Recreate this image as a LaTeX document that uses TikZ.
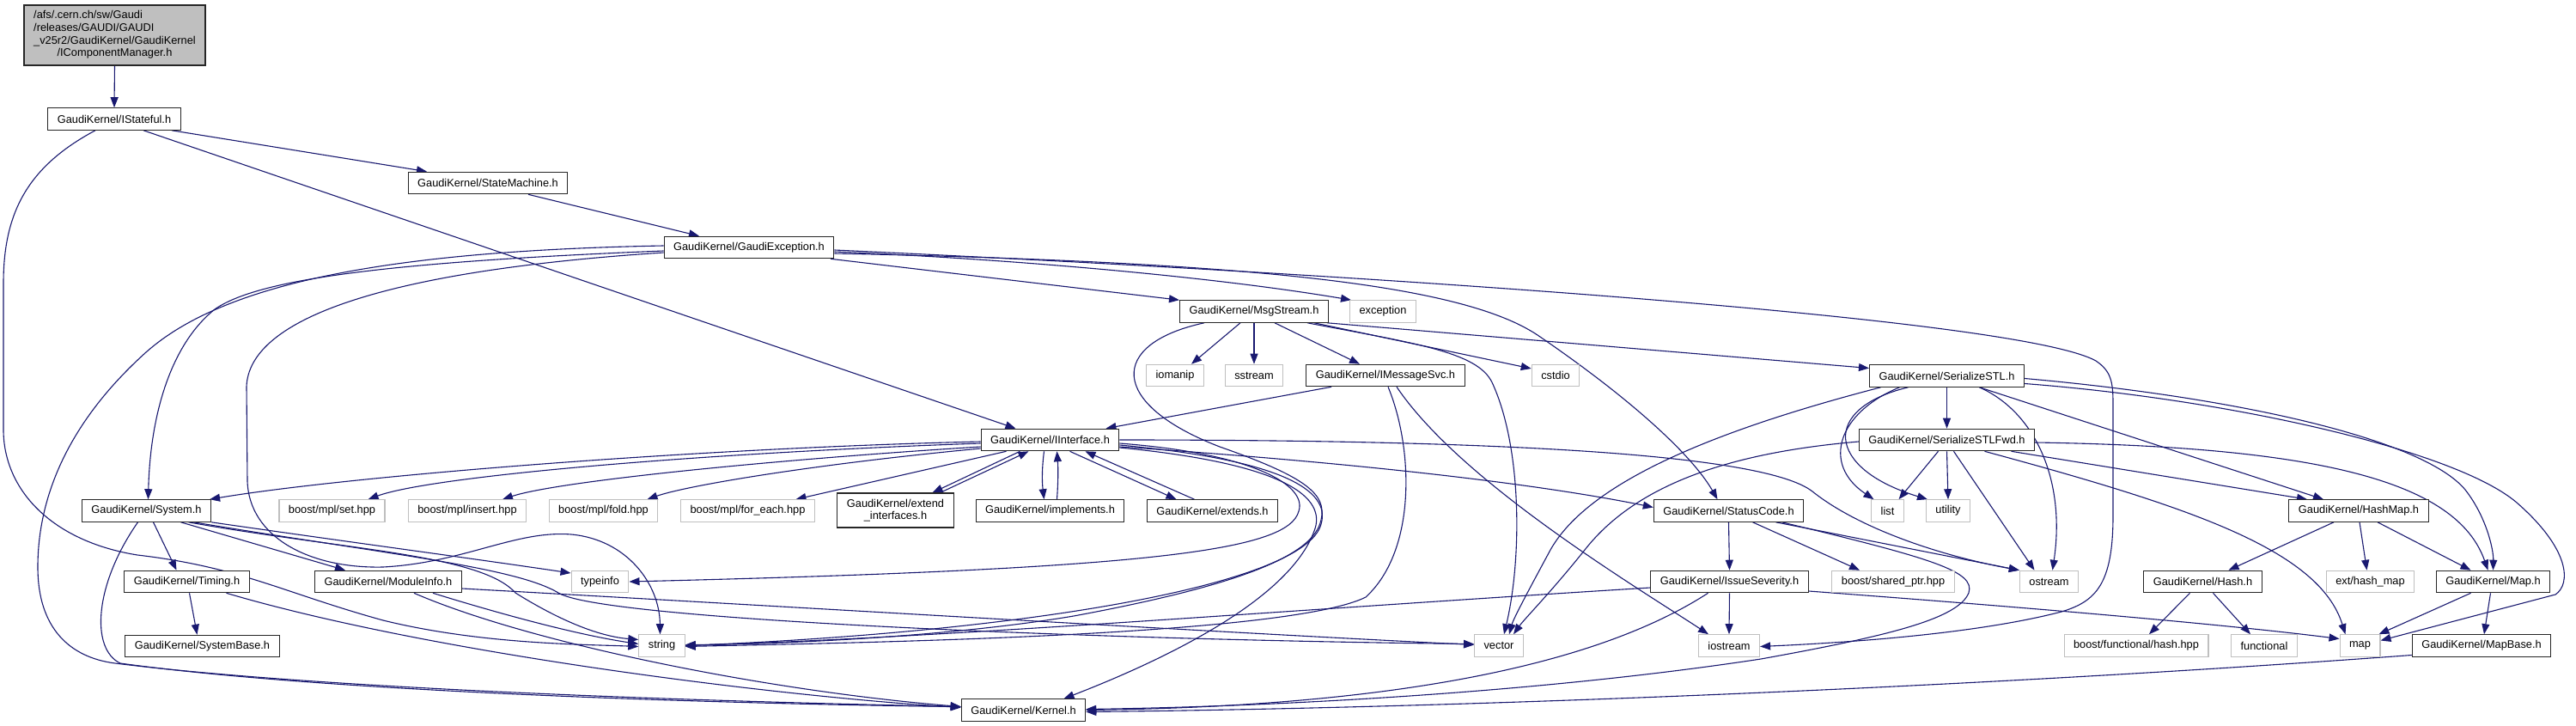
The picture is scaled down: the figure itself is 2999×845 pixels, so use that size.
\documentclass[tikz,border=0pt]{standalone}
\usepackage{fontspec}
\setmainfont{Liberation Sans}
\usetikzlibrary{arrows.meta}
\pgfdeclarelayer{bg}
\pgfsetlayers{bg,main}
\definecolor{edgec}{HTML}{191970}
\definecolor{sysgray}{HTML}{BFBFBF}
\begin{document}
\begin{tikzpicture}[x=1pt,y=-1pt,
  box/.style={rectangle, inner xsep=11pt, inner ysep=2pt, minimum height=25.5pt, fill=white,
              font=\fontsize{12.8}{14.7}\selectfont, line width=1.1pt},
  gk/.style={box, draw=black!85},
  sys/.style={box, draw=sysgray},
  edge/.style={draw=edgec, line width=1.1pt, -{Triangle[length=12pt,width=9pt]}}]
\useasboundingbox (0,0) rectangle (2999,845);
% ---------- nodes ----------
\node[gk, fill=sysgray, minimum width=211pt, minimum height=70pt, inner xsep=0pt] (root) at (133.5,41)
  {\begin{tabular}{@{}l@{}}/afs/.cern.ch/sw/Gaudi\\/releases/GAUDI/GAUDI\\\_v25r2/GaudiKernel/GaudiKernel\\\multicolumn{1}{@{}c@{}}{/IComponentManager.h}\end{tabular}};
\node[gk] (IStateful) at (133,138.5) {GaudiKernel/IStateful.h};
\node[gk] (StateMachine) at (568,213) {GaudiKernel/StateMachine.h};
\node[gk] (GaudiException) at (872,288) {GaudiKernel/GaudiException.h};
\node[gk] (MsgStream) at (1460,362.5) {GaudiKernel/MsgStream.h};
\node[sys] (exception) at (1610,362.5) {exception};
\node[sys] (iomanip) at (1368,437) {iomanip};
\node[sys] (sstream) at (1460,437) {sstream};
\node[gk] (IMessageSvc) at (1613,437) {GaudiKernel/IMessageSvc.h};
\node[sys] (cstdio) at (1811,437) {cstdio};
\node[gk] (SerializeSTL) at (2266.5,437.5) {GaudiKernel/SerializeSTL.h};
\node[gk] (IInterface) at (1222.5,512) {GaudiKernel/IInterface.h};
\node[gk] (SerializeSTLFwd) at (2266.5,512) {GaudiKernel/SerializeSTLFwd.h};
\node[gk] (System) at (170.5,594.5) {GaudiKernel/System.h};
\node[sys] (mplset) at (386.5,594.5) {boost/mpl/set.hpp};
\node[sys] (mplinsert) at (544,594.5) {boost/mpl/insert.hpp};
\node[sys] (mplfold) at (702.5,594.5) {boost/mpl/fold.hpp};
\node[sys] (mplforeach) at (870.5,594.5) {boost/mpl/for\_each.hpp};
\node[gk, align=center, minimum height=40pt] (extif) at (1042.5,594) {GaudiKernel/extend\\\_interfaces.h};
\node[gk] (implements) at (1222.5,594.5) {GaudiKernel/implements.h};
\node[gk] (extends) at (1411.5,594.5) {GaudiKernel/extends.h};
\node[gk] (StatusCode) at (2012.5,594.5) {GaudiKernel/StatusCode.h};
\node[sys] (list) at (2197.5,594.5) {list};
\node[sys] (utility) at (2268,594.5) {utility};
\node[gk] (HashMap) at (2746,594.5) {GaudiKernel/HashMap.h};
\node[gk] (Timing) at (217.5,677) {GaudiKernel/Timing.h};
\node[gk] (ModuleInfo) at (452,677) {GaudiKernel/ModuleInfo.h};
\node[sys] (typeinfo) at (698.5,677) {typeinfo};
\node[gk] (IssueSeverity) at (2013.5,677) {GaudiKernel/IssueSeverity.h};
\node[sys] (sharedptr) at (2204,677) {boost/shared\_ptr.hpp};
\node[sys] (ostream) at (2385.5,677) {ostream};
\node[gk] (Hash) at (2564.5,677) {GaudiKernel/Hash.h};
\node[sys] (exthashmap) at (2759.5,677) {ext/hash\_map};
\node[gk] (Map) at (2902.5,677) {GaudiKernel/Map.h};
\node[gk] (SystemBase) at (235.5,752) {GaudiKernel/SystemBase.h};
\node[sys] (string) at (770.5,751.5) {string};
\node[sys] (vector) at (1745,751.5) {vector};
\node[sys] (iostream) at (2013,751.5) {iostream};
\node[sys] (boosthash) at (2487,751.5) {boost/functional/hash.hpp};
\node[sys] (functional) at (2636,751.5) {functional};
\node[sys] (map) at (2747.5,751.5) {map};
\node[gk] (MapBase) at (2889,751.5) {GaudiKernel/MapBase.h};
\node[gk] (Kernel) at (1191.5,826.5) {GaudiKernel/Kernel.h};
% ---------- edges ----------
\begin{pgfonlayer}{bg}
\fill[white] (0,0) rectangle (2999,845);
\draw[edge] (root.south) -- (IStateful.north);
\draw[edge] ([xshift=67]IStateful.south) -- ([xshift=-71]StateMachine.north);
\draw[edge] ([xshift=34]IStateful.south) -- ([xshift=-40]IInterface.north);
\draw[edge] ([xshift=-22]IStateful.south) .. controls (30,195) and (4,250) .. (4,330) -- (4,500)
  .. controls (4,570) and (60,630) .. (160,646) .. controls (280,660) and (330,690) .. (446,722)
  .. controls (560,750) and (680,750) .. ([yshift=-1]string.west);
\draw[edge] ([xshift=47]StateMachine.south) -- ([xshift=-58]GaudiException.north);
% GaudiException
\draw[edge] ([xshift=95]GaudiException.south) -- ([xshift=-87]MsgStream.north);
\draw[edge] ([yshift=-5]GaudiException.east) .. controls (1150,300) and (1400,320) .. ([xshift=-37]exception.north);
\draw[edge] ([yshift=-7]GaudiException.east) .. controls (1450,305) and (1700,330) .. (1790,390)
  .. controls (1900,465) and (1970,530) .. ([xshift=-13]StatusCode.north);
\draw[edge] ([yshift=-3]GaudiException.east) .. controls (1600,320) and (2350,370) .. (2440,420)
  .. controls (2458,432) and (2460,445) .. (2460,470) -- (2460,600)
  .. controls (2460,680) and (2440,700) .. (2400,712) .. controls (2300,738) and (2150,748) .. ([yshift=-1]iostream.east);
\draw[edge] ([yshift=-4]GaudiException.west) .. controls (450,305) and (300,325) .. (250,360)
  .. controls (200,400) and (175,480) .. ([xshift=2]System.north);
\draw[edge] ([yshift=2]GaudiException.west) .. controls (450,292) and (260,330) .. (170,410)
  .. controls (70,500) and (44,590) .. (44,660) .. controls (44,730) and (80,765) .. (134,772)
  .. controls (400,805) and (900,818) .. ([yshift=4]Kernel.west);
\draw[edge] ([yshift=-6]GaudiException.west) .. controls (450,315) and (290,370) .. (287,450) -- (288,560)
  .. controls (290,625) and (360,662) .. (446,660) .. controls (540,655) and (600,617) .. (665,622)
  .. controls (730,628) and (768,680) .. ([xshift=-2]string.north);
% MsgStream
\draw[edge] ([xshift=-16]MsgStream.south) -- ([xshift=19]iomanip.north);
\draw[edge] (MsgStream.south) -- (sstream.north);
\draw[edge] ([xshift=24]MsgStream.south) -- ([xshift=-30]IMessageSvc.north);
\draw[edge] ([xshift=70]MsgStream.south) -- ([yshift=8]cstdio.west);
\draw[edge] ([xshift=-2]MsgStream.south east) -- ([yshift=9]SerializeSTL.west);
\draw[edge] ([xshift=62]MsgStream.south) .. controls (1650,400) and (1720,410) .. (1737,445)
  .. controls (1772,520) and (1772,650) .. ([xshift=6]vector.north);
\draw[edge] ([xshift=-58]MsgStream.south) .. controls (1290,400) and (1290,470) .. (1420,520)
  .. controls (1520,555) and (1545,575) .. (1538,605) .. controls (1530,645) and (1450,680) .. (1250,717)
  .. controls (1100,742) and (900,750) .. ([yshift=1]string.east);
% IMessageSvc
\draw[edge] ([xshift=-63]IMessageSvc.south) -- ([xshift=65]IInterface.north);
\draw[edge] ([xshift=3]IMessageSvc.south) .. controls (1645,520) and (1650,640) .. (1590,695)
  .. controls (1500,740) and (1000,748) .. ([yshift=-1]string.east);
\draw[edge] ([xshift=13]IMessageSvc.south) .. controls (1700,560) and (1900,680) .. ([xshift=-24]iostream.north);
% IInterface
\draw[edge] ([yshift=-2]IInterface.west) .. controls (800,522) and (400,555) .. ([xshift=-2]System.north east);
\draw[edge] ([yshift=-4]IInterface.west) .. controls (800,528) and (500,555) .. ([xshift=-20]mplset.north east);
\draw[edge] ([yshift=-8]IInterface.west) .. controls (900,535) and (650,560) .. ([xshift=41]mplinsert.north);
\draw[edge] ([yshift=-10]IInterface.west) .. controls (950,540) and (800,565) .. ([xshift=51]mplfold.north);
\draw[edge] ([xshift=-51]IInterface.south) -- ([xshift=56]mplforeach.north);
\draw[edge] ([xshift=-35]IInterface.south) -- ([xshift=43]extif.north);
\draw[edge] ([xshift=52]extif.north) -- ([xshift=-25]IInterface.south);
\draw[edge] ([xshift=-7]IInterface.south) .. controls (1213,545) and (1213,560) .. ([xshift=-7]implements.north);
\draw[edge] ([xshift=8]implements.north) .. controls (1232,560) and (1232,545) .. ([xshift=8]IInterface.south);
\draw[edge] ([xshift=23]IInterface.south) -- ([xshift=-42]extends.north);
\draw[edge] ([xshift=-21]extends.north) -- ([xshift=41]IInterface.south);
\draw[edge] ([yshift=-8]IInterface.east) .. controls (1600,540) and (1800,565) .. ([yshift=4]StatusCode.west);
\draw[edge] (IInterface.east) .. controls (1700,512) and (2050,525) .. (2110,572)
  .. controls (2160,612) and (2250,645) .. (ostream.north west);
\draw[edge] ([yshift=-4]IInterface.east) .. controls (1460,528) and (1522,565) .. (1512,595)
  .. controls (1500,640) and (1350,662) .. (typeinfo.east);
\draw[edge] ([yshift=-6]IInterface.east) .. controls (1490,535) and (1550,570) .. (1538,610)
  .. controls (1520,680) and (1200,735) .. (string.east);
\draw[edge] ([yshift=-9]IInterface.east) .. controls (1500,540) and (1545,580) .. (1530,618)
  .. controls (1500,700) and (1350,770) .. ([xshift=47]Kernel.north);
% StatusCode
\draw[edge] (StatusCode.south) -- (IssueSeverity.north);
\draw[edge] ([xshift=28]StatusCode.south) -- ([xshift=-39]sharedptr.north);
\draw[edge] ([xshift=55]StatusCode.south) -- (ostream.north west);
\draw[edge] ([xshift=62]StatusCode.south) .. controls (2250,650) and (2300,665) .. (2292,690)
  .. controls (2280,720) and (2200,740) .. (2050,767) .. controls (1800,805) and (1500,822) .. ([yshift=1]Kernel.east);
% IssueSeverity
\draw[edge] (IssueSeverity.south) -- (iostream.north);
\draw[edge] ([yshift=-7]IssueSeverity.west) .. controls (1500,710) and (1100,742) .. (string.east);
\draw[edge] ([xshift=-25]IssueSeverity.south) .. controls (1850,780) and (1600,822) .. (Kernel.east);
\draw[edge] ([yshift=-11]IssueSeverity.east) .. controls (2400,710) and (2600,728) .. ([yshift=8]map.west);
% SerializeSTL
\draw[edge] (SerializeSTL.south) -- (SerializeSTLFwd.north);
\draw[edge] ([xshift=-77]SerializeSTL.south) .. controls (2000,500) and (1850,560) .. (1805,640)
  .. controls (1778,690) and (1762,720) .. ([xshift=12]vector.north);
\draw[edge] ([xshift=-55]SerializeSTL.south) .. controls (2140,480) and (2120,540) .. ([xshift=-16]list.north);
\draw[edge] ([xshift=-45]SerializeSTL.south) .. controls (2120,475) and (2125,545) .. ([xshift=-24]utility.north);
\draw[edge] ([xshift=38]SerializeSTL.south) .. controls (2370,480) and (2405,560) .. ([xshift=4]ostream.north);
\draw[edge] ([xshift=38]SerializeSTL.south) -- ([xshift=-41]HashMap.north);
\draw[edge] ([yshift=-3]SerializeSTL.east) .. controls (2600,462) and (2820,510) .. (2870,570)
  .. controls (2895,602) and (2903,640) .. (Map.north);
\draw[edge] ([yshift=-9]SerializeSTL.east) .. controls (2600,465) and (2860,525) .. (2930,585)
  .. controls (2993,640) and (2993,680) .. (2975,692) -- ([yshift=6]map.east);
% SerializeSTLFwd
\draw[edge] ([yshift=-2]SerializeSTLFwd.west) .. controls (2000,528) and (1900,570) .. (1845,640)
  .. controls (1805,690) and (1775,720) .. ([xshift=17]vector.north);
\draw[edge] ([xshift=-10]SerializeSTLFwd.south) -- ([xshift=13]list.north);
\draw[edge] (SerializeSTLFwd.south) -- (utility.north);
\draw[edge] ([xshift=8]SerializeSTLFwd.south) -- ([xshift=-17]ostream.north);
\draw[edge] ([xshift=44]SerializeSTLFwd.south) .. controls (2550,590) and (2700,640) .. ([xshift=-17]map.north);
\draw[edge] ([xshift=75]SerializeSTLFwd.south) -- ([xshift=-60]HashMap.north);
\draw[edge] ([yshift=-3]SerializeSTLFwd.east) .. controls (2700,520) and (2860,560) .. ([xshift=-6]Map.north);
% HashMap, Hash, Map, MapBase
\draw[edge] ([xshift=-29]HashMap.south) -- ([xshift=30]Hash.north);
\draw[edge] ([xshift=1]HashMap.south) -- ([xshift=-4]exthashmap.north);
\draw[edge] ([xshift=22]HashMap.south) -- ([xshift=-26]Map.north);
\draw[edge] ([xshift=-15]Hash.south) -- ([xshift=15]boosthash.north);
\draw[edge] ([xshift=12]Hash.south) -- ([xshift=-16]functional.north);
\draw[edge] ([xshift=-26]Map.south) -- ([xshift=-2]map.north east);
\draw[edge] ([xshift=-3]Map.south) -- ([xshift=3]MapBase.north);
\draw[edge] ([yshift=-11]MapBase.west) .. controls (2300,800) and (1700,824) .. ([yshift=-2]Kernel.east);
% System
\draw[edge] ([xshift=8]System.south) -- ([xshift=-12]Timing.north);
\draw[edge] ([xshift=40]System.south) -- ([xshift=-50]ModuleInfo.north);
\draw[edge] (System.south east) .. controls (400,630) and (550,650) .. ([yshift=10]typeinfo.west);
\draw[edge] ([xshift=49]System.south) .. controls (400,640) and (560,645) .. (600,690)
  .. controls (640,715) and (690,740) .. ([yshift=7]string.west);
\draw[edge] ([xshift=55]System.south) .. controls (450,645) and (600,660) .. (650,690)
  .. controls (700,722) and (1300,745) .. ([yshift=2]vector.west);
\draw[edge] ([xshift=-10]System.south) .. controls (110,680) and (105,755) .. (140,772)
  .. controls (400,808) and (900,820) .. ([yshift=4]Kernel.west);
% Timing, ModuleInfo
\draw[edge] ([xshift=3]Timing.south) -- ([xshift=-6]SystemBase.north);
\draw[edge] ([xshift=46]Timing.south) .. controls (500,760) and (900,810) .. ([yshift=3]Kernel.west);
\draw[edge] ([xshift=30]ModuleInfo.south) .. controls (620,750) and (900,805) .. ([yshift=4]Kernel.west);
\draw[edge] ([xshift=52]ModuleInfo.south) .. controls (600,720) and (680,740) .. ([yshift=2]string.west);
\draw[edge] ([yshift=-8]ModuleInfo.east) .. controls (900,705) and (1400,735) .. ([yshift=1]vector.west);
\end{pgfonlayer}
\end{tikzpicture}
\end{document}
